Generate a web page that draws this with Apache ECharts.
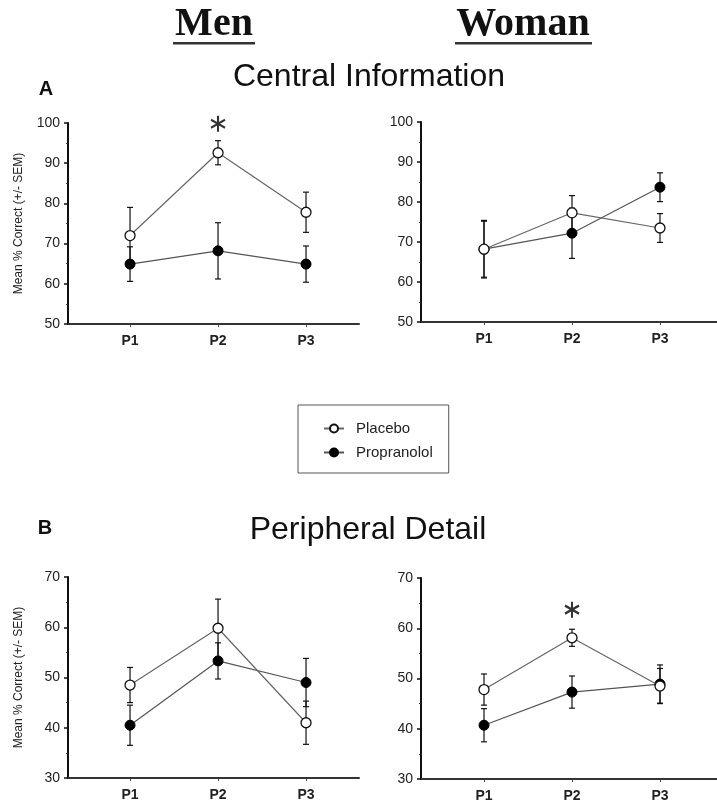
<!DOCTYPE html>
<html><head><meta charset="utf-8">
<script src="https://cdn.jsdelivr.net/npm/echarts@6/dist/echarts.min.js"></script>
<style>html,body{margin:0;padding:0;background:#fff}#c{width:717px;height:803px}</style>
</head><body><div id="c"></div>
<script>
const categories = ['P1', 'P2', 'P3'];
const menCentralPlacebo = [72, 92.6, 77.8];
const menCentralPlaceboSem = [7, 3, 5];
const menCentralPropranolol = [64.9, 68.2, 64.9];
const menCentralPropranololSem = [4.3, 7, 4.5];
const womanCentralPlacebo = [68.2, 77.3, 73.5];
const womanCentralPlaceboSem = [7, 4.3, 3.6];
const womanCentralPropranolol = [68.2, 72.2, 83.7];
const womanCentralPropranololSem = [7.2, 6.3, 3.6];
const menPeripheralPlacebo = [48.5, 59.8, 41];
const menPeripheralPlaceboSem = [3.5, 5.8, 4.3];
const menPeripheralPropranolol = [40.5, 53.3, 49];
const menPeripheralPropranololSem = [4, 3.6, 4.8];
const womanPeripheralPlacebo = [47.8, 58.1, 48.5];
const womanPeripheralPlaceboSem = [3.1, 1.7, 3.5];
const womanPeripheralPropranolol = [40.7, 47.3, 48.9];
const womanPeripheralPropranololSem = [3.3, 3.2, 3.8];
const centralRange = [50, 100];
const peripheralRange = [30, 70];
const tickStep = 10;
const significanceMenCentral = [[2, 99.8]];
const significanceWomanPeripheral = [[2, 63.7]];

const FONT = '"Liberation Sans", Arial, sans-serif';
const chart = echarts.init(document.getElementById('c'), null, {renderer: 'canvas'});

const grids = [
  {left: 68, top: 123, width: 291, height: 201},
  {left: 421, top: 122, width: 296, height: 200},
  {left: 68, top: 577, width: 291, height: 201},
  {left: 421, top: 578, width: 296, height: 202}
];
const xRanges = [[0.295, 3.602], [0.284, 3.648], [0.295, 3.602], [0.284, 3.648]];
const yRanges = [centralRange, centralRange, peripheralRange, peripheralRange];
const panels = [
  [menCentralPlacebo, menCentralPlaceboSem, menCentralPropranolol, menCentralPropranololSem, significanceMenCentral],
  [womanCentralPlacebo, womanCentralPlaceboSem, womanCentralPropranolol, womanCentralPropranololSem, null],
  [menPeripheralPlacebo, menPeripheralPlaceboSem, menPeripheralPropranolol, menPeripheralPropranololSem, null],
  [womanPeripheralPlacebo, womanPeripheralPlaceboSem, womanPeripheralPropranolol, womanPeripheralPropranololSem, significanceWomanPeripheral]
];
const catIdx = categories.map((c, i) => i + 1);

const xAxis = grids.map((g, i) => ({
  type: 'value', gridIndex: i, min: xRanges[i][0], max: xRanges[i][1],
  axisLine: {show: true, lineStyle: {color: '#333', width: 2}},
  axisTick: {show: true, customValues: catIdx, length: 3, lineStyle: {color: '#444', width: 1}},
  axisLabel: {customValues: catIdx, formatter: v => categories[Math.round(v) - 1] || '', fontFamily: FONT, fontSize: 14, fontWeight: 'bold', color: '#222', margin: 10},
  splitLine: {show: false}
}));
const yAxis = grids.map((g, i) => ({
  type: 'value', gridIndex: i, min: yRanges[i][0], max: yRanges[i][1], interval: tickStep,
  name: (i % 2 === 0) ? 'Mean % Correct (+/- SEM)' : '',
  nameLocation: 'middle', nameRotate: 90, nameGap: 43,
  nameTextStyle: {fontFamily: FONT, fontSize: 12, color: '#222'},
  axisLine: {show: true, lineStyle: {color: '#111', width: 2}},
  axisTick: {show: true, length: 4, lineStyle: {color: '#111', width: 1.5}},
  minorTick: {show: true, splitNumber: 2, length: 2, lineStyle: {color: '#333', width: 1}},
  axisLabel: {fontFamily: FONT, fontSize: 14, color: '#222', margin: 8},
  splitLine: {show: false}
}));

function errRender(params, api) {
  const x = api.value(0), lo = api.value(1), hi = api.value(2);
  const pLo = api.coord([x, lo]), pHi = api.coord([x, hi]);
  const w = 3;
  const style = {stroke: '#111', lineWidth: 1.2};
  return {type: 'group', children: [
    {type: 'line', shape: {x1: pLo[0], y1: pLo[1], x2: pHi[0], y2: pHi[1]}, style},
    {type: 'line', shape: {x1: pLo[0] - w, y1: pLo[1], x2: pLo[0] + w, y2: pLo[1]}, style},
    {type: 'line', shape: {x1: pHi[0] - w, y1: pHi[1], x2: pHi[0] + w, y2: pHi[1]}, style}
  ]};
}

const series = [];
panels.forEach((p, i) => {
  const [pl, plS, pr, prS, star] = p;
  const errData = [];
  categories.forEach((c, k) => {
    errData.push([k + 1, pl[k] - plS[k], pl[k] + plS[k]]);
    errData.push([k + 1, pr[k] - prS[k], pr[k] + prS[k]]);
  });
  series.push({type: 'custom', xAxisIndex: i, yAxisIndex: i, renderItem: errRender, data: errData, encode: {x: 0, y: [1, 2]}, z: 1, silent: true, clip: false});
  series.push({type: 'line', name: 'Propranolol', xAxisIndex: i, yAxisIndex: i, data: pr.map((v, k) => [k + 1, v]),
    symbol: 'circle', symbolSize: 10, lineStyle: {color: '#555', width: 1.2},
    itemStyle: {color: '#000', borderColor: '#000', borderWidth: 1}, z: 3, animation: false});
  series.push({type: 'line', name: 'Placebo', xAxisIndex: i, yAxisIndex: i, data: pl.map((v, k) => [k + 1, v]),
    symbol: 'circle', symbolSize: 10, lineStyle: {color: '#666', width: 1.2},
    itemStyle: {color: '#fff', borderColor: '#111', borderWidth: 1.3}, z: 4, animation: false});
  if (star) {
    series.push({type: 'scatter', xAxisIndex: i, yAxisIndex: i, data: star,
      symbol: 'path://M0,-7L0,7M-6.06,-3.5L6.06,3.5M-6.06,3.5L6.06,-3.5', symbolSize: [14, 16],
      itemStyle: {color: 'rgba(0,0,0,0)', borderColor: '#000', borderWidth: 2.2}, z: 5, silent: true, animation: false});
  }
});

const option = {
  animation: false,
  backgroundColor: '#fff',
  grid: grids,
  xAxis, yAxis, series,
  legend: {
    data: ['Placebo', 'Propranolol'], orient: 'vertical', left: 298, top: 405,
    padding: [16, 16, 13, 25], itemGap: 9, itemWidth: 20, itemHeight: 10,
    borderColor: '#555', borderWidth: 1,
    textStyle: {fontFamily: FONT, fontSize: 15, color: '#222', padding: [0, 0, 0, 7]},
    selectedMode: false
  },
  graphic: [
    {type: 'text', x: 214, y: 25, style: {text: 'Men', font: 'bold 40px "Liberation Serif", "Times New Roman", serif', fill: '#111', align: 'center', verticalAlign: 'middle'}},
    {type: 'rect', shape: {x: 173, y: 42, width: 82, height: 2.5}, style: {fill: '#333'}},
    {type: 'text', x: 523, y: 25, style: {text: 'Woman', font: 'bold 40px "Liberation Serif", "Times New Roman", serif', fill: '#111', align: 'center', verticalAlign: 'middle'}},
    {type: 'rect', shape: {x: 455, y: 42, width: 137, height: 2.5}, style: {fill: '#333'}},
    {type: 'text', x: 369, y: 77, style: {text: 'Central Information', font: '32px ' + FONT, fill: '#111', align: 'center', verticalAlign: 'middle'}},
    {type: 'text', x: 368, y: 530, style: {text: 'Peripheral Detail', font: '32px ' + FONT, fill: '#111', align: 'center', verticalAlign: 'middle'}},
    {type: 'text', x: 46, y: 89, style: {text: 'A', font: 'bold 20px ' + FONT, fill: '#111', align: 'center', verticalAlign: 'middle'}},
    {type: 'text', x: 45, y: 528, style: {text: 'B', font: 'bold 20px ' + FONT, fill: '#111', align: 'center', verticalAlign: 'middle'}}
  ]
};
chart.setOption(option);
</script>
</body></html>
